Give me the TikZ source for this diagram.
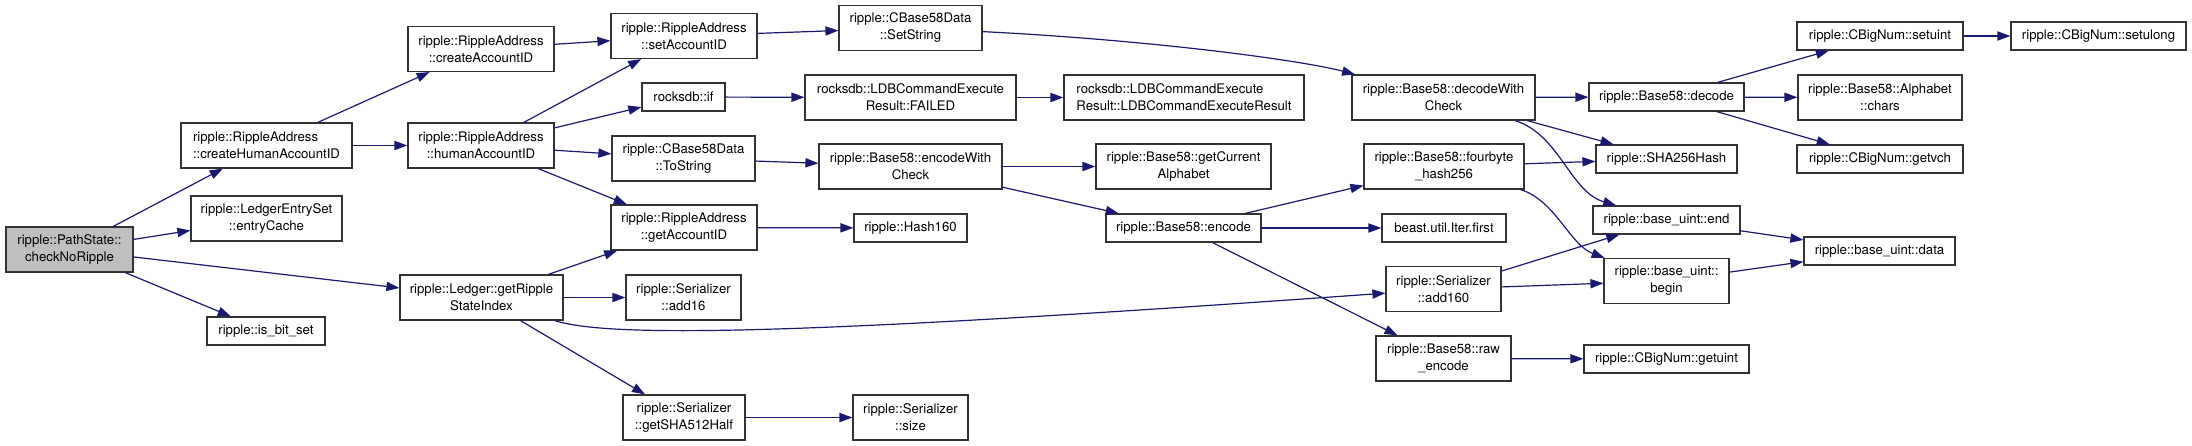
\documentclass[tikz,border=0pt]{standalone}
\usepackage{fontspec}
\setmainfont{TeX Gyre Heros}
\usepackage{xcolor}
\usepackage{tikz}
\usetikzlibrary{arrows.meta,positioning,calc}
\definecolor{callblue}{RGB}{25,25,112}
\definecolor{rootgray}{RGB}{191,191,191}

\begin{document}
\begin{tikzpicture}[
    x=0.5pt, y=-0.5pt,
    fn/.style={rectangle, draw=black!80, line width=0.6pt, fill=white, minimum height=14pt, inner sep=1pt, align=center, font=\fontsize{6.6}{8.5}\selectfont},
    fn2/.style={fn, minimum height=22.5pt},
    root/.style={fn2, fill=rootgray},
    call/.style={-{Triangle[length=6.5pt, width=4.6pt]}, draw=callblue, line width=0.6pt}
]
\useasboundingbox (0,0) rectangle (2192,445);

% ═══════════════════════════════════════════════════════════════
% Root and first level
% ═══════════════════════════════════════════════════════════════
\node[root, minimum width=63.5pt] (pathstate) at (69.5,249.5) {ripple::PathState::\\checkNoRipple};

\node[fn2, minimum width=85.5pt, align=left] (createhuman) at (266.5,145.5) {ripple::RippleAddress\\::createHumanAccountID};
\node[fn2, minimum width=75.5pt] (entrycache) at (266.5,218.5) {ripple::LedgerEntrySet\\::entryCache};
\node[fn, minimum width=59pt] (isbitset) at (266,331) {ripple::is\_bit\_set};

% ═══════════════════════════════════════════════════════════════
% RippleAddress / Ledger level
% ═══════════════════════════════════════════════════════════════
\node[fn2, minimum width=73pt] (createacct) at (481,49) {ripple::RippleAddress\\::createAccountID};
\node[fn2, minimum width=73pt] (humanacct) at (481,145.5) {ripple::RippleAddress\\::humanAccountID};
\node[fn2, minimum width=81.5pt] (getripple) at (481.5,297.5) {ripple::Ledger::getRipple\\StateIndex};

\node[fn2, minimum width=73pt] (setacct) at (684,36) {ripple::RippleAddress\\::setAccountID};
\node[fn, minimum width=41.5pt] (rocksif) at (683.5,97) {rocksdb::if};
\node[fn2, minimum width=71.5pt] (tostring) at (683.5,158.5) {ripple::CBase58Data\\::ToString};
\node[fn2, minimum width=73pt] (getacct) at (684,227.5) {ripple::RippleAddress\\::getAccountID};
\node[fn2, minimum width=57.5pt] (add16) at (683.5,297.5) {ripple::Serializer\\::add16};
\node[fn2, minimum width=61pt] (sha512) at (684,417.5) {ripple::Serializer\\::getSHA512Half};

% ═══════════════════════════════════════════════════════════════
% CBase58Data / rocksdb level
% ═══════════════════════════════════════════════════════════════
\node[fn2, minimum width=71.5pt] (setstring) at (910.5,28) {ripple::CBase58Data\\::SetString};
\node[fn2, minimum width=105.5pt] (failed) at (910.5,97.5) {rocksdb::LDBCommandExecute\\Result::FAILED};
\node[fn2, minimum width=91.5pt] (encwcheck) at (910.5,166.5) {ripple::Base58::encodeWith\\Check};
\node[fn, minimum width=56.5pt] (hash160) at (910.5,228) {ripple::Hash160};
\node[fn2, minimum width=57.5pt] (size) at (910.5,417.5) {ripple::Serializer\\::size};

\node[fn2, minimum width=120pt, align=left] (ldbresult) at (1184,97.5) {rocksdb::LDBCommandExecute\\Result::LDBCommandExecuteResult};
\node[fn2, minimum width=87.5pt] (getcurrent) at (1183.5,166.5) {ripple::Base58::getCurrent\\Alphabet};
\node[fn, minimum width=77.5pt] (encode) at (1183.5,228) {ripple::Base58::encode};

% ═══════════════════════════════════════════════════════════════
% Base58 internals
% ═══════════════════════════════════════════════════════════════
\node[fn2, minimum width=91.5pt] (decwcheck) at (1443.5,97.5) {ripple::Base58::decodeWith\\Check};
\node[fn2, minimum width=80pt] (fourbyte) at (1444,166.5) {ripple::Base58::fourbyte\\\_hash256};
\node[fn, minimum width=62pt] (beast) at (1444,228) {beast.util.Iter.first};
\node[fn2, minimum width=57.5pt] (add160) at (1443.5,289) {ripple::Serializer\\::add160};
\node[fn2, minimum width=67.5pt] (rawenc) at (1443.5,358.5) {ripple::Base58::raw\\\_encode};

\node[fn, minimum width=77.5pt] (decode) at (1666.5,97) {ripple::Base58::decode};
\node[fn, minimum width=70.5pt] (sha256) at (1666.5,159) {ripple::SHA256Hash};
\node[fn, minimum width=73.5pt] (uend) at (1666.5,220) {ripple::base\_uint::end};
\node[fn2, minimum width=62.5pt] (ubegin) at (1666.5,281) {ripple::base\_uint::\\begin};
\node[fn, minimum width=82.5pt] (getuint) at (1666.5,359) {ripple::CBigNum::getuint};

\node[fn, minimum width=83pt] (setuint) at (1880,36) {ripple::CBigNum::setuint};
\node[fn2, minimum width=82pt] (chars) at (1880,97.5) {ripple::Base58::Alphabet\\::chars};
\node[fn, minimum width=83pt] (getvch) at (1880,159) {ripple::CBigNum::getvch};
\node[fn, minimum width=75.5pt] (udata) at (1879.5,251) {ripple::base\_uint::data};
\node[fn, minimum width=87.5pt] (setulong) at (2098.5,36) {ripple::CBigNum::setulong};

% ═══════════════════════════════════════════════════════════════
% Calls
% ═══════════════════════════════════════════════════════════════
\draw[call] (pathstate) -- (createhuman);
\draw[call] (pathstate) -- (entrycache);
\draw[call] (pathstate) -- (getripple);
\draw[call] (pathstate) -- (isbitset);

\draw[call] (createhuman) -- (createacct);
\draw[call] (createhuman) -- (humanacct);

\draw[call] (createacct) -- (setacct);
\draw[call] (humanacct) -- (setacct);
\draw[call] (humanacct) -- (rocksif);
\draw[call] (humanacct) -- (tostring);
\draw[call] (humanacct) -- (getacct);

\draw[call] (getripple) -- (getacct);
\draw[call] (getripple) -- (add16);
\draw[call] (getripple) .. controls (610,338) and (800,335) .. (add160);
\draw[call] (getripple) -- (sha512);

\draw[call] (setacct) -- (setstring);
\draw[call] (rocksif) -- (failed);
\draw[call] (tostring) -- (encwcheck);
\draw[call] (getacct) -- (hash160);
\draw[call] (sha512) -- (size);

\draw[call] (setstring) .. controls (1150,40) and (1300,60) .. (decwcheck);
\draw[call] (failed) -- (ldbresult);
\draw[call] (encwcheck) -- (getcurrent);
\draw[call] (encwcheck) -- (encode);

\draw[call] (encode) -- (fourbyte);
\draw[call] (encode) -- (beast);
\draw[call] (encode) -- (rawenc);

\draw[call] (decwcheck) -- (decode);
\draw[call] (decwcheck) -- (sha256);
\draw[call] (decwcheck) .. controls (1560,135) and (1570,192) .. (uend);
\draw[call] (fourbyte) -- (sha256);
\draw[call] (fourbyte) .. controls (1555,200) and (1570,245) .. (ubegin);
\draw[call] (add160) -- (uend);
\draw[call] (add160) -- (ubegin);
\draw[call] (rawenc) -- (getuint);

\draw[call] (decode) -- (setuint);
\draw[call] (decode) -- (chars);
\draw[call] (decode) -- (getvch);
\draw[call] (setuint) -- (setulong);
\draw[call] (uend) -- (udata);
\draw[call] (ubegin) -- (udata);
\end{tikzpicture}
\end{document}
